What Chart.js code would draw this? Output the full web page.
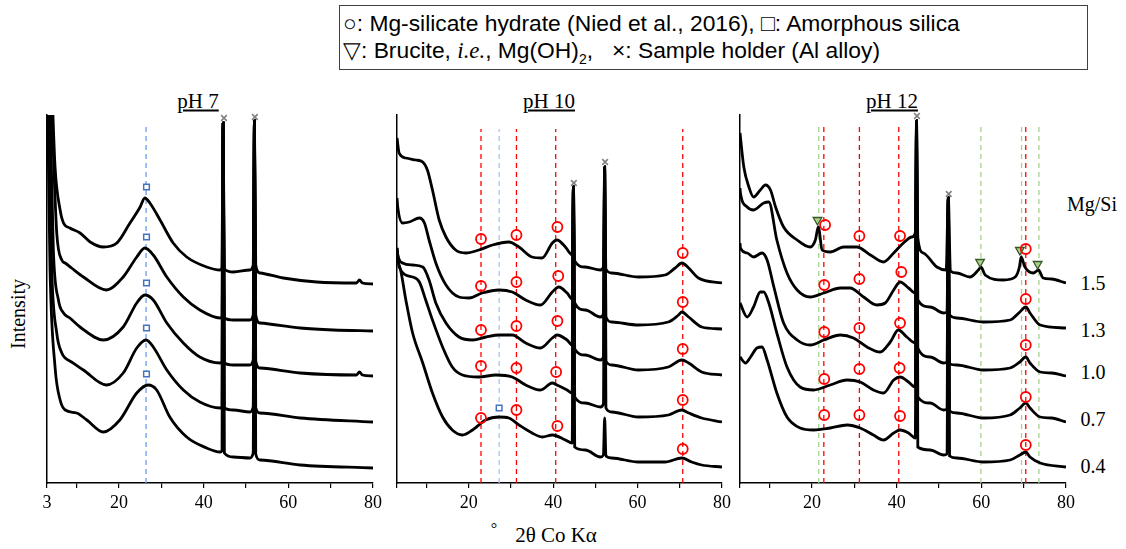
<!DOCTYPE html>
<html>
<head>
<meta charset="utf-8">
<script src="https://cdn.jsdelivr.net/npm/chart.js@4.4.1/dist/chart.umd.min.js"></script>
<style>
  body { margin: 0; width: 1126px; height: 549px; background: #fff; position: relative; overflow: hidden; font-family: 'Liberation Serif', 'Times New Roman', serif; color: #000; }
  .panel { position: absolute; top: 100px; height: 420px; }
  .box { position: absolute; left: 339px; top: 5px; width: 749px; height: 65px; border: 1.5px solid #404040; box-sizing: border-box;
         font-family: Arial, 'Liberation Sans', sans-serif; font-size: 22.8px; line-height: 27px; padding: 4px 0 0 3px; }
  .box i { font-family: 'Liberation Serif', serif; }
  .box sub { font-size: 14px; line-height: 0; }
  .t { position: absolute; white-space: nowrap; font-size: 20px; transform: translate(-50%, -50%); }
  .title { text-decoration: underline; font-size: 21px; }
</style>
</head>
<body>
<div class="box">
  <div>○: Mg-silicate hydrate (Nied et al., 2016), □: Amorphous silica</div>
  <div>▽: Brucite, <i>i.e.</i>, Mg(OH)<sub>2</sub>,&nbsp;&nbsp; ×: Sample holder (Al alloy)</div>
</div>

<div class="t title" style="left:198px; top:101px;">pH 7</div>
<div class="t title" style="left:549px; top:101px;">pH 10</div>
<div class="t title" style="left:892px; top:101px;">pH 12</div>

<div class="t" style="left:18px; top:314px; transform: translate(-50%, -50%) rotate(-90deg);">Intensity</div>
<div class="t" style="left:494px; top:529px; font-size:16px;">°</div>
<div class="t" style="left:556px; top:535px; font-size:21px;">2θ Co Kα</div>

<div id="mgsi"></div>

<div class="panel" style="left:32px; width:356px;"><canvas id="ph7"></canvas></div>
<div class="panel" style="left:382px; width:355px;"><canvas id="ph10"></canvas></div>
<div class="panel" style="left:725px; width:356px;"><canvas id="ph12"></canvas></div>

<script>
// x axis ticks
const xTicks = [3, 10, 20, 30, 40, 50, 60, 70, 80];
const xLabels = [3, 20, 40, 60, 80];

// Mg/Si ratio labels on the right (top trace first)
const mgSi = ['1.5', '1.3', '1.0', '0.7', '0.4'];
const mgSiY = [283, 330, 372, 419, 466];

// ---- pH 7 traces [2theta, intensity]
const ph7_15 = [[3.3,450],[4.1,400],[4.9,316],[6.1,273],[6.9,260],[8.4,255],[10.8,250],[13.2,241],[16.3,236],[19.5,240],[22.6,260],[25.0,276],[26.1,285],[27.3,280],[29.7,263],[32.8,240],[36.0,226],[40.7,216],[43.9,213],[44.3,215],[44.6,360],[44.9,214],[47.0,211],[50.9,213],[51.7,218],[52.0,362],[52.3,218],[53.3,210],[58.8,205],[66.7,201],[76.1,200],[76.8,203],[77.5,200],[80,199]];
const ph7_13 = [[3.3,450],[3.9,400],[4.5,330],[5.3,250],[6.5,223],[7.3,220],[8.8,215],[11.6,206],[17.0,193],[21.0,206],[24.2,226],[26.1,235],[28.1,228],[31.3,206],[35.2,186],[39.1,173],[43.9,165],[44.3,166],[44.6,360],[44.9,165],[47.0,163],[50.9,163],[51.7,168],[52.0,362],[52.3,168],[53.3,160],[62.8,155],[70.6,153],[80,152]];
const ph7_10 = [[3.2,450],[3.7,380],[4.5,233],[5.7,183],[6.9,170],[8.4,165],[10.8,156],[16.3,143],[21.0,156],[24.2,180],[26.1,188],[28.1,183],[31.3,160],[35.2,140],[39.1,126],[43.9,120],[44.3,121],[44.6,360],[44.9,120],[47.0,118],[50.9,118],[51.7,123],[52.0,362],[52.3,122],[53.3,115],[62.8,110],[76.1,108],[76.8,111],[77.5,108],[80,107]];
const ph7_07 = [[3.1,450],[3.5,350],[4.1,216],[5.3,150],[6.5,130],[7.3,125],[8.8,121],[11.6,113],[17.0,98],[21.0,110],[24.2,135],[26.4,143],[28.1,136],[31.3,113],[35.2,93],[39.1,81],[43.9,75],[44.3,76],[44.6,360],[44.9,75],[47.0,73],[50.9,71],[51.7,76],[52.0,362],[52.3,75],[53.3,70],[62.8,65],[80,61]];
const ph7_04 = [[3.0,450],[3.3,330],[3.7,216],[4.9,116],[6.1,83],[7.3,73],[10.0,70],[12.4,63],[16.3,51],[20.2,63],[24.2,90],[26.9,98],[28.9,93],[32.0,66],[36.0,46],[40.7,35],[43.9,31],[44.3,32],[44.6,360],[44.9,30],[47.0,26],[50.9,25],[51.7,30],[52.0,362],[52.3,29],[53.3,23],[62.8,18],[80,15]];
const ph7_silica = [[26.5,296],[26.5,246],[26.5,200],[26.5,155],[26.5,109]];
const ph7_holder = [[44.8,365],[52.1,366]];

// ---- pH 10 traces
const ph10_15 = [[3.0,345],[3.5,330],[5.1,325],[7.5,323],[9.1,321],[10.2,313],[11.4,293],[13.0,263],[14.6,246],[16.9,233],[19.3,230],[22.4,233],[25.6,238],[29.5,241],[31.9,236],[35.0,226],[37.4,225],[39.8,240],[40.9,243],[42.9,236],[44.5,228],[44.8,296],[45.1,222],[47.6,216],[51.2,213],[51.9,216],[52.2,316],[52.5,214],[53.9,210],[60.2,206],[66.5,208],[68.9,215],[70.5,220],[72.1,215],[74.4,205],[80,200]];
const ph10_13 = [[3.0,285],[3.2,275],[4.3,260],[5.9,261],[8.3,265],[9.5,260],[10.6,243],[12.2,220],[14.6,198],[17.7,186],[20.1,185],[23.2,190],[27.2,193],[30.3,191],[33.5,183],[37.0,178],[39.8,191],[41.3,196],[43.3,190],[44.5,184],[44.8,296],[45.1,180],[47.6,173],[51.2,166],[51.9,169],[52.2,316],[52.5,166],[53.9,161],[60.2,158],[67.3,161],[69.7,168],[70.5,171],[72.1,166],[75.2,156],[80,154]];
const ph10_10 = [[3.0,235],[3.2,228],[4.3,220],[6.7,218],[9.1,216],[10.6,203],[12.2,180],[14.6,160],[17.7,146],[20.9,143],[24.1,146],[27.2,148],[30.3,148],[33.5,140],[37.0,135],[39.8,145],[40.9,148],[43.3,143],[44.5,138],[44.8,296],[45.1,134],[47.6,128],[51.2,123],[51.9,126],[52.2,316],[52.5,122],[53.9,118],[60.2,113],[67.3,116],[70.5,123],[72.1,120],[75.2,111],[80,108]];
const ph10_07 = [[3.0,235],[3.5,216],[6.7,206],[8.3,201],[9.8,183],[11.4,163],[13.8,136],[16.1,116],[18.5,108],[22.4,106],[26.4,108],[30.3,106],[33.5,98],[37.0,93],[39.8,100],[40.9,98],[43.3,93],[44.5,90],[44.8,296],[45.1,86],[47.6,80],[51.2,76],[51.9,79],[52.2,316],[52.5,75],[53.9,71],[60.2,66],[67.3,68],[70.5,73],[72.1,70],[75.2,65],[80,61]];
const ph10_04 = [[3.2,222],[3.9,212],[5.1,183],[6.7,150],[9.1,120],[11.4,90],[13.8,66],[16.1,53],[18.5,48],[20.9,53],[24.0,63],[27.2,66],[29.5,65],[31.9,58],[35.0,50],[37.4,46],[39.8,48],[42.9,43],[44.5,40],[44.8,296],[45.1,36],[47.6,33],[51.2,26],[51.9,28],[52.2,65],[52.5,27],[53.9,25],[60.2,21],[66.5,21],[70.5,25],[72.8,21],[75.2,18],[80,16]];
const ph10_mgsh = [[22.9,244],[31.3,248],[41.0,256],[70.7,230],[22.9,197],[31.3,201],[41.2,207],[70.7,181],[22.9,153],[31.3,157],[41.0,162],[70.7,134],[22.9,117],[31.3,115],[40.7,111],[70.7,83],[22.9,65],[31.3,73],[41.0,57],[70.7,34]];
const ph10_silica = [[27.2,75]];
const ph10_holder = [[44.9,300],[52.3,321]];

// ---- pH 12 traces
const ph12_15 = [[3.0,350],[3.9,316],[5.1,296],[6.2,286],[7.8,293],[9.0,298],[10.2,293],[11.4,276],[13.3,256],[16.5,243],[19.6,236],[20.8,243],[21.5,256],[22.4,233],[24.3,231],[27.5,236],[30.6,236],[33.8,228],[36.9,221],[39.3,230],[41.6,240],[43.6,246],[44.4,250],[44.7,362],[45.0,245],[46.3,230],[49.5,216],[51.7,213],[52.2,285],[52.7,212],[54.2,210],[57.3,206],[59.3,213],[59.9,216],[60.9,208],[65.2,203],[68.0,206],[69.0,216],[69.4,226],[70.3,216],[72.3,210],[73.5,213],[74.6,205],[76.6,204],[80,200]];
const ph12_13 = [[3.0,295],[3.1,290],[4.7,276],[6.2,273],[8.6,280],[9.8,281],[11.7,243],[14.1,210],[16.5,193],[19.6,186],[22.8,190],[26.7,195],[29.0,195],[32.2,186],[35.3,178],[37.3,180],[39.3,193],[40.8,201],[42.8,195],[44.4,190],[44.7,362],[45.0,183],[47.9,176],[51.1,170],[51.9,171],[52.2,285],[52.5,168],[54.2,165],[60.5,161],[66.8,163],[69.1,171],[70.5,176],[71.5,170],[73.9,158],[80,155]];
const ph12_10 = [[3.0,240],[3.1,235],[4.7,230],[6.2,226],[8.2,230],[9.4,223],[11.0,196],[13.3,160],[16.5,143],[19.6,138],[22.8,143],[26.7,148],[29.8,145],[33.0,136],[36.1,131],[38.5,141],[40.4,153],[42.4,146],[44.4,140],[44.7,362],[45.0,135],[47.9,126],[51.1,120],[51.9,121],[52.2,285],[52.5,119],[54.2,118],[60.5,113],[66.8,115],[69.1,121],[70.5,126],[71.5,120],[73.9,111],[76.6,110],[80,107]];
const ph12_07 = [[3.0,180],[4.7,166],[6.2,176],[7.8,191],[8.6,191],[9.8,180],[11.7,150],[14.1,116],[17.2,96],[20.4,93],[24.3,98],[28.3,103],[31.4,101],[34.5,93],[36.9,90],[39.3,103],[40.8,106],[42.8,101],[44.4,96],[44.7,362],[45.0,86],[47.9,80],[51.1,73],[51.9,74],[52.2,285],[52.5,72],[54.2,70],[60.5,65],[66.8,68],[69.1,75],[70.5,80],[71.5,75],[73.9,66],[76.6,65],[80,61]];
const ph12_04 = [[3.0,126],[4.3,120],[5.5,126],[7.0,135],[8.2,136],[9.4,123],[11.7,90],[14.1,66],[17.2,55],[20.4,53],[24.3,55],[28.3,58],[31.4,55],[34.5,48],[36.9,43],[39.3,50],[40.8,53],[42.8,50],[44.4,45],[44.7,362],[45.0,36],[47.9,33],[51.1,28],[51.9,29],[52.2,285],[52.5,27],[54.2,25],[60.5,21],[66.8,23],[69.1,28],[70.5,31],[71.5,26],[73.9,20],[80,16]];
const ph12_mgsh = [[23.1,258],[31.2,247],[40.8,247],[70.5,234],[22.9,198],[31.2,204],[41.1,211],[70.5,184],[22.9,151],[31.2,155],[40.8,160],[70.5,138],[22.9,104],[31.2,114],[40.7,115],[70.5,86],[22.9,68],[31.2,68],[40.8,67],[70.5,38]];
const ph12_brucite = [[21.3,263],[59.7,221],[69.1,233],[73.3,219]];
const ph12_holder = [[44.8,367],[52.3,289]];

// reference lines: position, top, colour
const ph7_lines = [[26.4, 357, '#6d9eeb']];
const ph10_lines = [[22.9, 354, '#ff0000'], [27.2, 354, '#a9c4ea'], [31.3, 354, '#ff0000'], [40.6, 354, '#ff0000'], [70.7, 354, '#ff0000']];
const ph12_lines = [[21.6, 356, '#a9d18e'], [22.8, 356, '#ff0000'], [31.2, 356, '#ff0000'], [40.5, 356, '#ff0000'],
                    [59.9, 356, '#a9d18e'], [69.5, 356, '#a9d18e'], [70.5, 356, '#ff0000'], [73.6, 356, '#a9d18e']];

const toXY = arr => arr.map(p => ({ x: p[0], y: p[1] }));

const markerStyles = {
    mgsh:    { pointStyle: 'circle', pointRadius: 5, borderColor: '#ff0000', backgroundColor: 'rgba(0,0,0,0)', borderWidth: 1.8 },
    silica:  { pointStyle: 'rect', pointRadius: 4, borderColor: '#4472c4', backgroundColor: '#fff', borderWidth: 1.5 },
    brucite: { pointStyle: 'triangle', rotation: 180, pointRadius: 5, borderColor: '#385723', backgroundColor: '#a9d18e', borderWidth: 1.3 },
    holder:  { pointStyle: 'crossRot', pointRadius: 4, borderColor: '#808080', borderWidth: 1.6 }
};

function makePanel(id, traces, markers, lines, labelThree) {
    const datasets = [];
    lines.forEach(l => datasets.push({
        type: 'line', data: [{ x: l[0], y: 0 }, { x: l[0], y: l[1] }],
        borderColor: l[2], borderWidth: 1.3, borderDash: [5, 4], pointRadius: 0, order: 3
    }));
    traces.forEach(t => datasets.push({
        type: 'line', data: toXY(t), borderColor: '#000', borderWidth: 2.8,
        pointRadius: 0, cubicInterpolationMode: 'monotone', order: 2
    }));
    markers.forEach(m => datasets.push(Object.assign({
        type: 'scatter', data: toXY(m[1]), showLine: false, clip: false, order: 1
    }, markerStyles[m[0]])));

    const ctx = document.getElementById(id).getContext('2d');
    return new Chart(ctx, {
        data: { datasets: datasets },
        options: {
            responsive: true,
            maintainAspectRatio: false,
            animation: false,
            layout: { padding: { left: 15, right: 15, top: 15, bottom: 0 } },
            plugins: { legend: { display: false }, tooltip: { enabled: false } },
            scales: {
                x: {
                    type: 'linear', min: 3, max: 80,
                    afterBuildTicks: s => { s.ticks = xTicks.map(v => ({ value: v })); },
                    afterFit: s => { s.height = 37; },
                    ticks: {
                        autoSkip: false, maxRotation: 0, padding: 4, color: '#000',
                        font: { family: "'Liberation Serif', serif", size: 18 },
                        callback: v => (xLabels.includes(v) && (v !== 3 || labelThree)) ? String(v) : ''
                    },
                    grid: { display: true, drawOnChartArea: false, drawTicks: true, tickLength: 5, color: '#000', lineWidth: 1.2 },
                    border: { display: true, color: '#000', width: 1.5 }
                },
                y: {
                    type: 'linear', min: 0, max: 368,
                    afterFit: s => { s.width = 0; },
                    ticks: { display: false },
                    grid: { display: false },
                    border: { display: true, color: '#000', width: 1.5 }
                }
            }
        }
    });
}

makePanel('ph7', [ph7_15, ph7_13, ph7_10, ph7_07, ph7_04],
    [['silica', ph7_silica], ['holder', ph7_holder]], ph7_lines, true);
makePanel('ph10', [ph10_15, ph10_13, ph10_10, ph10_07, ph10_04],
    [['mgsh', ph10_mgsh], ['silica', ph10_silica], ['holder', ph10_holder]], ph10_lines, false);
makePanel('ph12', [ph12_15, ph12_13, ph12_10, ph12_07, ph12_04],
    [['mgsh', ph12_mgsh], ['brucite', ph12_brucite], ['holder', ph12_holder]], ph12_lines, false);

// Mg/Si labels
const mg = document.getElementById('mgsi');
let html = '<div class="t" style="left:1092px; top:204px;">Mg/Si</div>';
mgSi.forEach((s, i) => { html += '<div class="t" style="left:1093px; top:' + mgSiY[i] + 'px;">' + s + '</div>'; });
mg.innerHTML = html;
</script>
</body>
</html>
